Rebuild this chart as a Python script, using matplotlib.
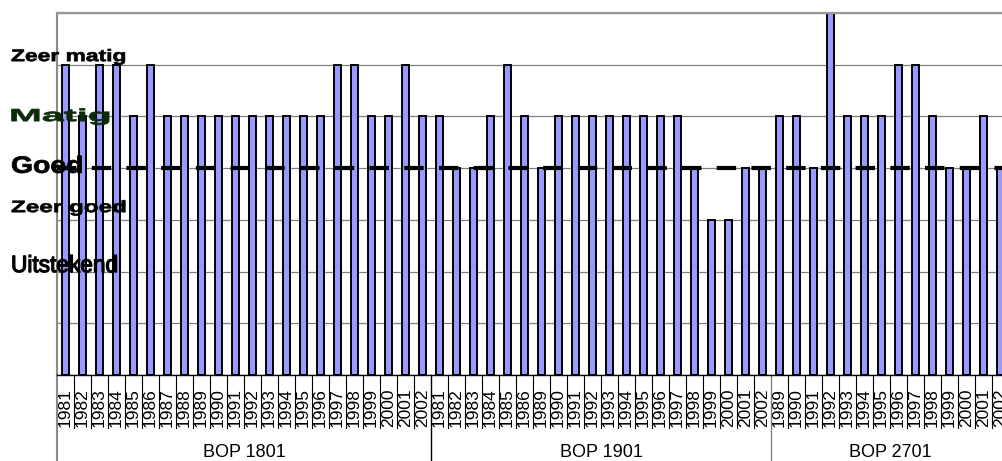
import matplotlib
matplotlib.use("Agg")
import matplotlib.pyplot as plt
from matplotlib import patheffects
from matplotlib.transforms import Affine2D, blended_transform_factory

# ---------------- data ----------------
groups = ["BOP 1801", "BOP 1901", "BOP 2701"]
years_1801 = [1981, 1982, 1983, 1984, 1985, 1986, 1987, 1988, 1989, 1990, 1991,
              1992, 1993, 1994, 1995, 1996, 1997, 1998, 1999, 2000, 2001, 2002]
values_1801 = [6, 5, 6, 6, 5, 6, 5, 5, 5, 5, 5, 5, 5, 5, 5, 5, 6, 6, 5, 5, 6, 5]
years_1901 = [1981, 1982, 1983, 1984, 1985, 1986, 1989, 1990, 1991, 1992,
              1993, 1994, 1995, 1996, 1997, 1998, 1999, 2000, 2001, 2002]
values_1901 = [5, 4, 4, 5, 6, 5, 4, 5, 5, 5, 5, 5, 5, 5, 5, 4, 3, 3, 4, 4]
years_2701 = [1989, 1990, 1991, 1992, 1993, 1994, 1995, 1996, 1997, 1998,
              1999, 2000, 2001, 2002]
values_2701 = [5, 5, 4, 7, 5, 5, 5, 6, 6, 5, 4, 4, 5, 4]

y_labels = ["Zeer matig", "Matig", "Goed", "Zeer goed", "Uitstekend"]
y_label_pos = [6.07, 4.91, 3.91, 3.15, 1.99]
reference_value = 4

# styles for the (stretched) quality labels
y_label_size = [12.0, 12.6, 17.0, 11.8, 17.0]
y_label_weight = ["bold", "bold", "bold", "bold", "normal"]
y_label_stretch = [1.37, 2.25, 1.2, 1.48, 0.96]
y_label_stroke = [0.5, 0.5, 0.6, 0.5, 0.9]
y_label_color = ["black", "#0b2b0b", "black", "black", "black"]
y_label_x = [11, 9, 11, 11, 11]

FONT = "Liberation Sans"
plt.rcParams["font.family"] = [FONT, "DejaVu Sans"]
plt.rcParams["lines.scale_dashes"] = False


class Stretch(patheffects.AbstractPathEffect):
    """Draw text stretched about its origin, optionally thickened by a stroke."""
    def __init__(self, sx=1.0, sy=1.0, stroke=0.0):
        super().__init__()
        self.sx, self.sy, self.stroke = sx, sy, stroke

    def draw_path(self, renderer, gc, tpath, affine, rgbFace=None):
        gc0 = renderer.new_gc()
        gc0.copy_properties(gc)
        gc0.set_linewidth(self.stroke)
        gc0.set_joinstyle("round")
        renderer.draw_path(gc0, tpath, Affine2D().scale(self.sx, self.sy) + affine, rgbFace)
        gc0.restore()


W, H = 1003, 461
fig = plt.figure(figsize=(W / 100, H / 100), dpi=100)
ax_bottom_px, ax_top_px, ax_left_px = 375, 13, 57
cat_px = 17.0
n_cat = len(years_1801) + len(years_1901) + len(years_2701)
ax = fig.add_axes([ax_left_px / W, (H - ax_bottom_px) / H,
                   n_cat * cat_px / W, (ax_bottom_px - ax_top_px) / H])
ax_h_px = ax_bottom_px - ax_top_px


def ypx(p):
    """pixel row -> axes fraction"""
    return (ax_bottom_px - p) / ax_h_px


all_years = years_1801 + years_1901 + years_2701
all_values = values_1801 + values_1901 + values_2701
x = list(range(len(all_years)))

ax.bar(x, all_values, width=0.36, color="#9999FF", edgecolor="black",
       linewidth=1.4, zorder=2)
ax.axhline(reference_value, color="black", lw=3.0, dashes=(14.0, 11.0),
           dash_capstyle="butt", zorder=3)

ax.set_xlim(-0.5, n_cat - 0.5)
ax.set_ylim(0, 7)
ax.set_yticks(range(0, 8))
ax.set_xticks([])
ax.tick_params(left=False, labelleft=False, bottom=False, labelbottom=False)
ax.grid(axis="y", color="#7f7f7f", lw=0.9)
ax.set_axisbelow(True)
ax.spines["top"].set_color("#9a9a9a")
ax.spines["top"].set_linewidth(1.6)
ax.spines["left"].set_color("#8a8a8a")
ax.spines["left"].set_linewidth(1.5)
ax.spines["right"].set_visible(False)
ax.spines["bottom"].set_color("black")
ax.spines["bottom"].set_linewidth(1.0)

bt = blended_transform_factory(ax.transData, ax.transAxes)

# year labels
for xi, yr in zip(x, all_years):
    ax.text(xi, ypx(427), str(yr), transform=bt, rotation=90, ha="center",
            va="bottom", fontsize=12.5, clip_on=False)

# boundaries
sizes = [len(years_1801), len(years_1901), len(years_2701)]
group_edges = []
acc = 0
for s in sizes:
    acc += s
    group_edges.append(acc)
for b in range(1, n_cat):
    if b in group_edges:
        continue
    ax.plot([b - 0.5, b - 0.5], [0, ypx(428)], transform=bt, color="black",
            lw=0.8, clip_on=False)
sep_colors = ["black", "#808080"]
for k, b in enumerate(group_edges[:-1]):
    ax.plot([b - 0.5, b - 0.5], [0, ypx(470)], transform=bt,
            color=sep_colors[k], lw=1.0, clip_on=False)
ax.plot([-0.5, -0.5], [0, ypx(470)], transform=bt, color="#8a8a8a",
        lw=1.5, clip_on=False)

# group labels
start = 0
for g, s in zip(groups, sizes):
    ax.text(start + (s - 1) / 2, ypx(457), g, transform=bt, ha="center",
            va="baseline", fontsize=13, clip_on=False)
    start += s

# quality labels on the left
lt = blended_transform_factory(fig.transFigure, ax.transData)
for lab, pos, sz, wt, sx, stk, col, xp in zip(y_labels, y_label_pos, y_label_size,
                                             y_label_weight, y_label_stretch,
                                             y_label_stroke, y_label_color, y_label_x):
    fig.text(xp / W, pos, lab, transform=lt, ha="left", va="baseline",
             fontsize=sz, fontweight=wt, color=col, zorder=5,
             path_effects=[Stretch(sx, 1.0, stk)])

fig.savefig("out.png", dpi=100)
